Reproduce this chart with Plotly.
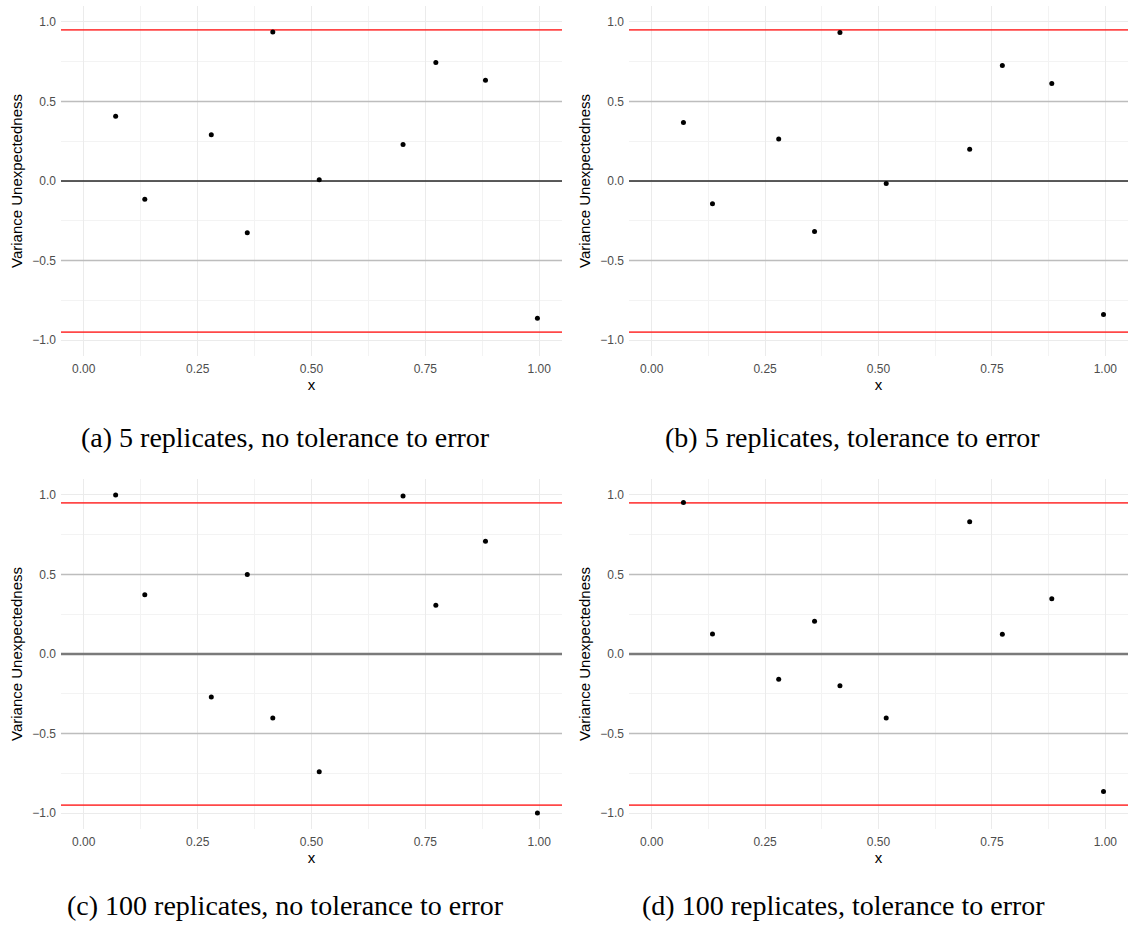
import plotly.graph_objects as go

# ---- data ----
x_vals = [0.070, 0.134, 0.280, 0.359, 0.415, 0.517, 0.701, 0.773, 0.882, 0.996]
y_a = [0.407, -0.115, 0.290, -0.325, 0.936, 0.008, 0.229, 0.745, 0.634, -0.863]
y_b = [0.367, -0.143, 0.264, -0.317, 0.934, -0.015, 0.199, 0.726, 0.613, -0.839]
y_c = [1.000, 0.372, -0.271, 0.500, -0.402, -0.740, 0.993, 0.307, 0.709, -1.000]
y_d = [0.953, 0.126, -0.158, 0.206, -0.200, -0.402, 0.831, 0.124, 0.347, -0.865]
captions = [
    "(a) 5 replicates, no tolerance to error",
    "(b) 5 replicates, tolerance to error",
    "(c) 100 replicates, no tolerance to error",
    "(d) 100 replicates, tolerance to error",
]
red_levels = [0.95, -0.95]
grey_levels = [0.5, -0.5]
zero_level = [0.0]
x_ticks = [0.0, 0.25, 0.5, 0.75, 1.0]
x_tick_text = ["0.00", "0.25", "0.50", "0.75", "1.00"]
y_ticks = [-1.0, -0.5, 0.0, 0.5, 1.0]
y_tick_text = ["\u22121.0", "\u22120.5", "0.0", "0.5", "1.0"]
x_range = [-0.05, 1.05]
y_range = [-1.1, 1.1]

W, H = 1130, 934
series = [y_a, y_b, y_c, y_d]

# panel pixel boxes (left, right, top, bottom)
boxes = [
    (61, 562, 6, 356),
    (629, 1128, 6, 356),
    (61, 562, 479, 829),
    (629, 1128, 479, 829),
]
caption_pos = [(285, 437), (852, 437), (285, 905), (843, 905)]

fig = go.Figure()
annotations = []


def hline(level, xa, ya, color, width):
    fig.add_trace(go.Scatter(
        x=x_range, y=[level, level], mode="lines", xaxis=xa, yaxis=ya,
        line=dict(color=color, width=width), showlegend=False, hoverinfo="skip"))


for i, (ys, box) in enumerate(zip(series, boxes)):
    n = "" if i == 0 else str(i + 1)
    xa, ya = "x" + n, "y" + n
    for lv in grey_levels:
        hline(lv, xa, ya, "#bdbdbd", 1.5)
    for lv in zero_level:
        zc = "#262626" if i < 2 else "#7a7a7a"
        zw = 1.5 if i < 2 else 2.4
        hline(lv, xa, ya, zc, zw)
    for lv in red_levels:
        hline(lv, xa, ya, "rgba(255,40,40,0.85)", 1.8)
    fig.add_trace(go.Scatter(
        x=x_vals, y=ys, mode="markers", xaxis=xa, yaxis=ya,
        marker=dict(color="black", size=5, line=dict(width=0)),
        showlegend=False, hoverinfo="skip"))
    l, r, t, b = box
    common_font = dict(family="Liberation Sans, Arial, sans-serif", size=12, color="#4d4d4d")
    fig.layout["xaxis" + n] = dict(
        domain=[l / W, r / W], anchor=ya, range=x_range,
        tickvals=x_ticks, ticktext=x_tick_text, tickfont=common_font,
        showgrid=True, gridcolor="#ebebeb", gridwidth=1, zeroline=False,
        showline=False, ticks="", ticklabelstandoff=4,
        minor=dict(dtick=0.125, tick0=0, showgrid=True, gridcolor="#f3f3f3", gridwidth=1),
        title=dict(text="x", standoff=2,
                   font=dict(family="Liberation Sans, Arial, sans-serif", size=15, color="black")),
    )
    fig.layout["yaxis" + n] = dict(
        domain=[1 - b / H, 1 - t / H], anchor=xa, range=y_range,
        tickvals=y_ticks, ticktext=y_tick_text, tickfont=common_font,
        showgrid=True, gridcolor="#ebebeb", gridwidth=1, zeroline=False,
        showline=False, ticks="", ticklabelstandoff=4,
        minor=dict(dtick=0.25, tick0=0, showgrid=True, gridcolor="#f3f3f3", gridwidth=1),
        title=dict(text="Variance Unexpectedness", standoff=6,
                   font=dict(family="Liberation Sans, Arial, sans-serif", size=15, color="black")),
    )
    cx, cy = caption_pos[i]
    annotations.append(dict(text=captions[i], xref="paper", yref="paper", x=cx / W, y=1 - cy / H,
                            xanchor="center", yanchor="middle", showarrow=False,
                            font=dict(family="Liberation Serif, DejaVu Serif, serif", size=28, color="black")))

fig.update_layout(
    width=W, height=H, margin=dict(l=0, r=0, t=0, b=0),
    paper_bgcolor="white", plot_bgcolor="white",
    annotations=annotations,
)
fig.write_html("out.html")
